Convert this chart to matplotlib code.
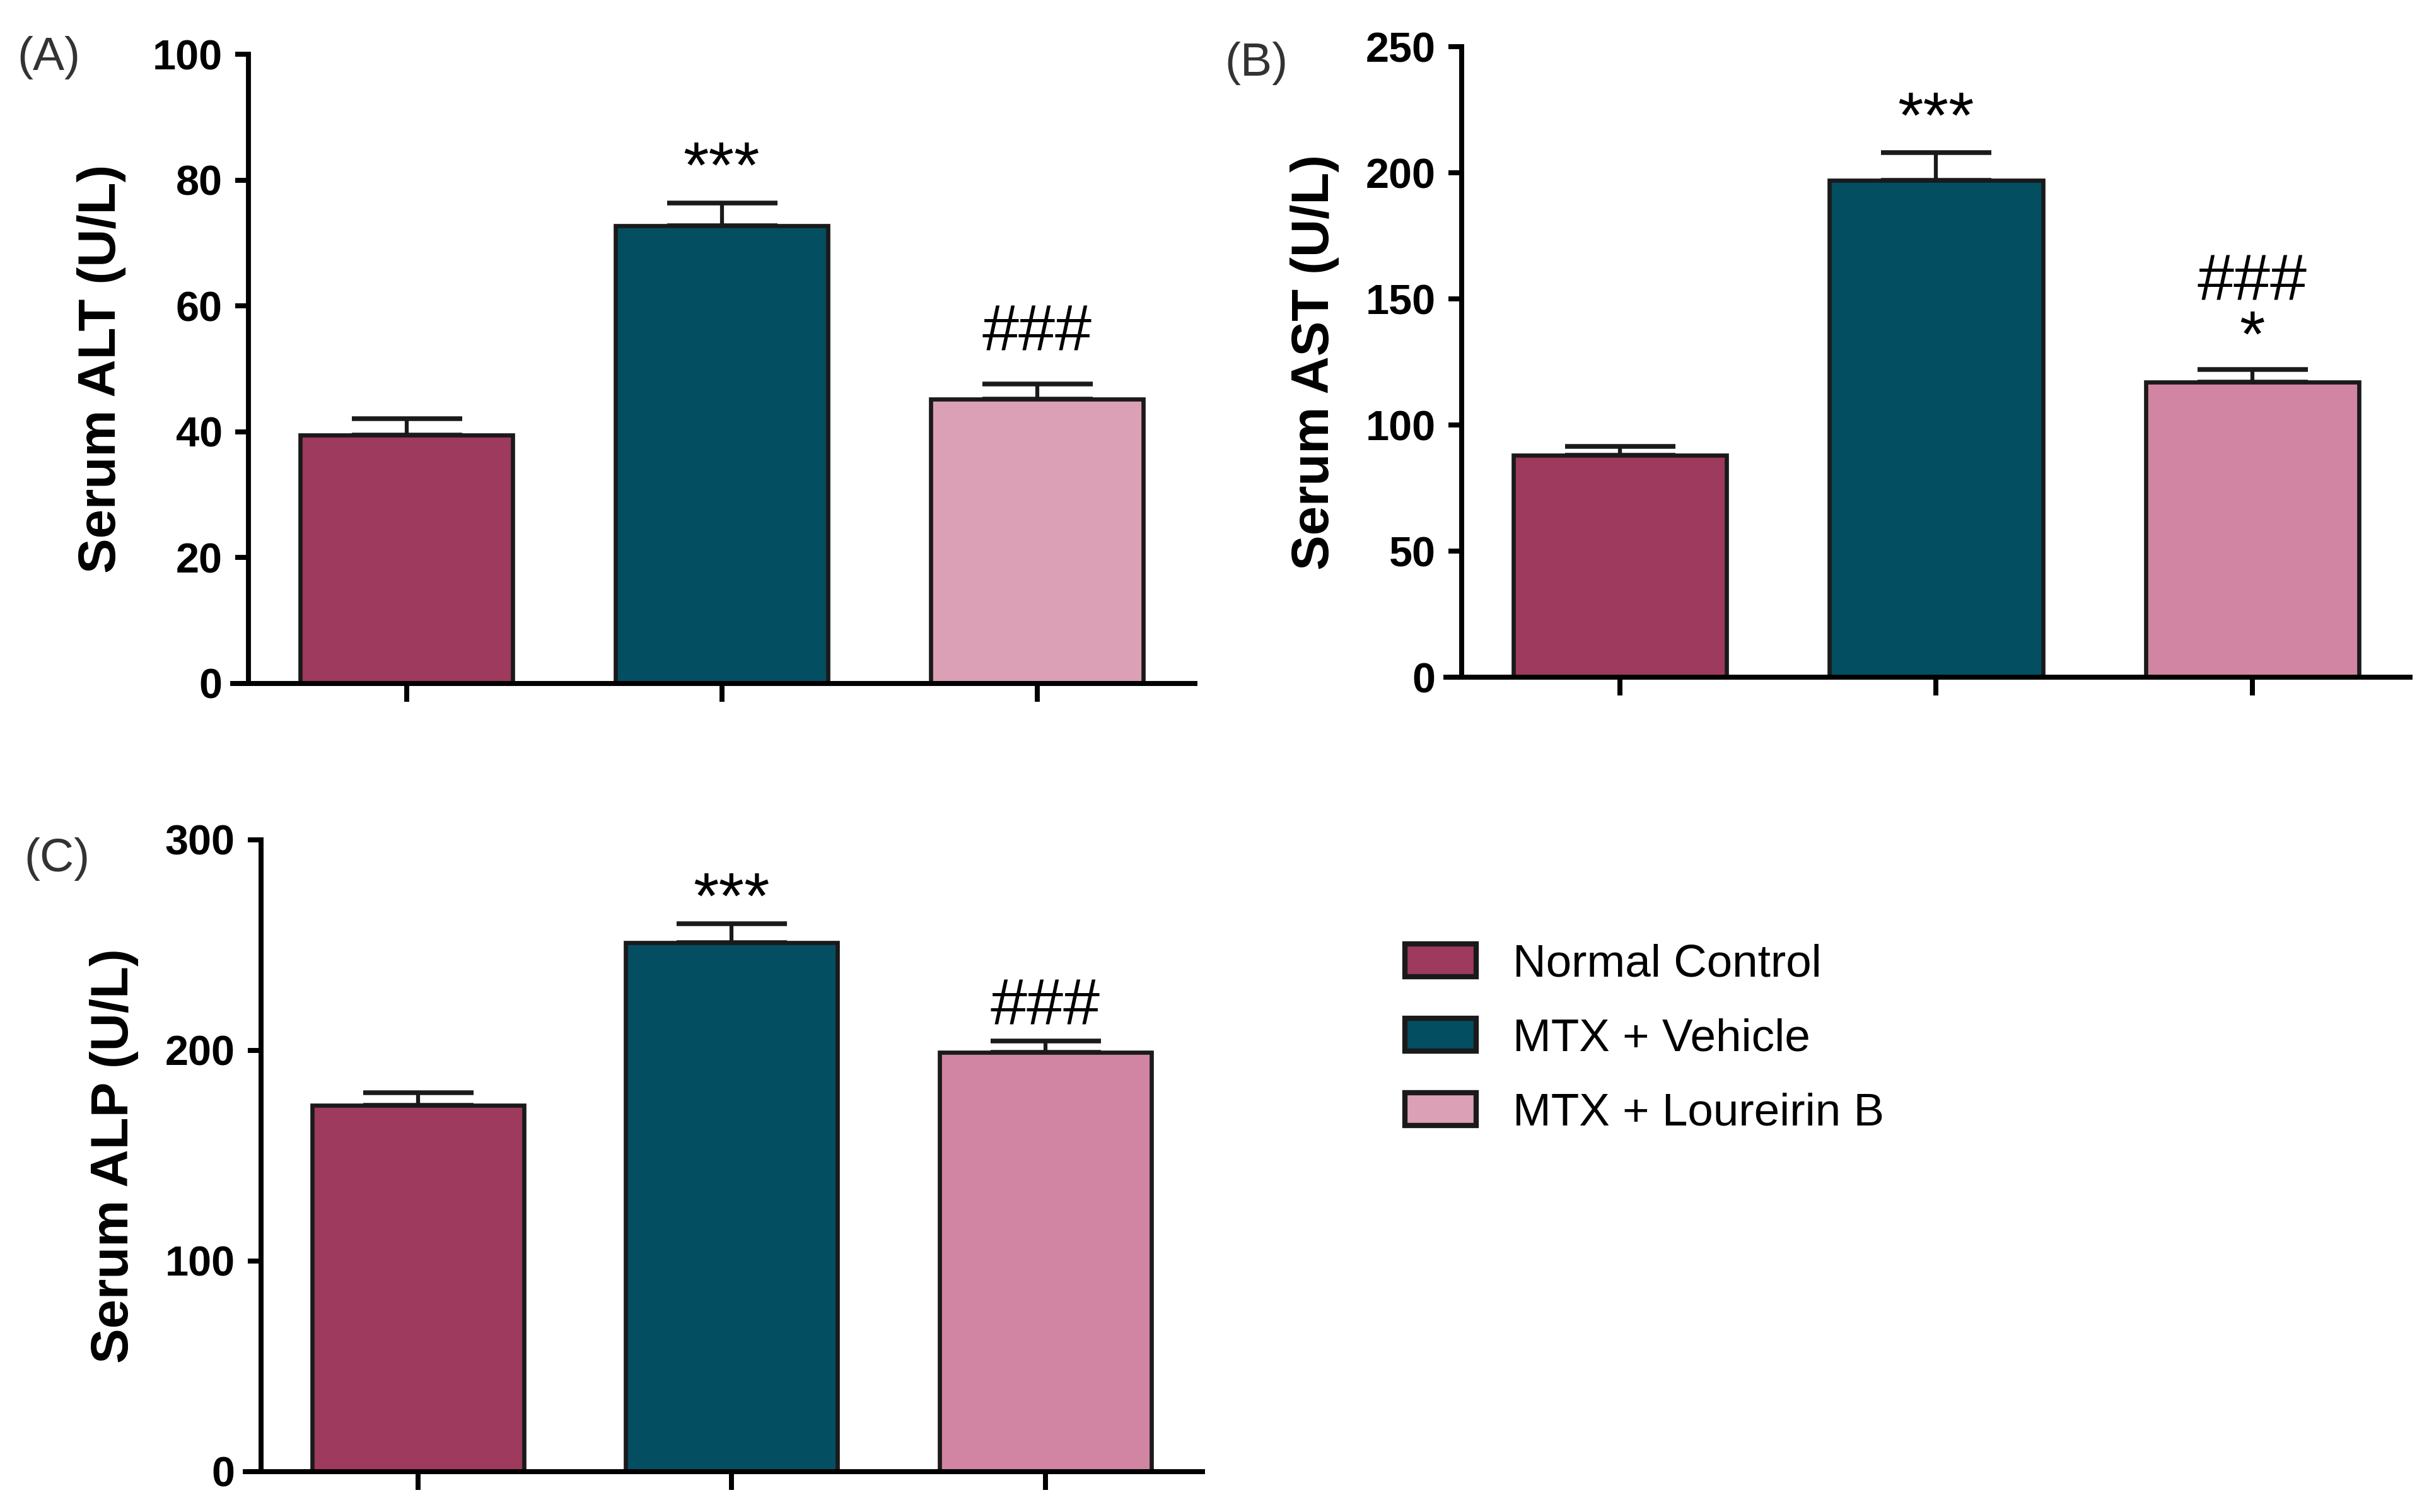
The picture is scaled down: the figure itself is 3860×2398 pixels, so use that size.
import matplotlib
matplotlib.use("Agg")
import matplotlib.pyplot as plt
from matplotlib.patches import Patch

plt.rcParams['font.family'] = ['Liberation Sans', 'DejaVu Sans']

groups = ["Normal Control", "MTX + Vehicle", "MTX + Loureirin B"]

alt_mean = [39.5, 72.8, 45.2]
alt_err = [2.6, 3.6, 2.4]
ast_mean = [88.0, 197.0, 117.0]
ast_err = [3.5, 11.0, 5.0]
alp_mean = [174.0, 251.0, 199.0]
alp_err = [6.0, 9.0, 5.5]

alt_marks = ["", "***", "###"]
ast_marks = ["", "***", "###\n*"]
alp_marks = ["", "***", "###"]

c_nc = "#9E3A5D"
c_veh = "#044E62"
c_lb_light = "#DCA0B6"
c_lb = "#D285A3"

fig = plt.figure(figsize=(3861/300, 2398/300), dpi=300)

def panel(rect, means, errs, ymax, ystep, ylabel, marks, mark_y, colors, tag, tagpos):
    ax = fig.add_axes(rect)
    x = list(range(len(means)))
    ax.bar(x, means, width=0.675, color=colors, edgecolor="#1a1a1a", linewidth=1.6, zorder=2)
    ax.errorbar(x, means, yerr=[[0]*len(errs), errs], fmt="none", ecolor="#1a1a1a",
                elinewidth=1.5, capsize=21, capthick=1.8, zorder=1)
    ax.set_xlim(-0.55, 2.5)
    ax.set_ylim(0, ymax)
    ax.spines['top'].set_visible(False)
    ax.spines['right'].set_visible(False)
    ax.spines['left'].set_position(('data', -0.5))
    for s in ['left', 'bottom']:
        ax.spines[s].set_linewidth(1.9)
    ax.set_xticks(x)
    ax.set_xticklabels([])
    ax.set_yticks(list(range(0, ymax + 1, ystep)))
    ax.tick_params(axis='x', length=7, width=1.9, direction='out')
    ax.tick_params(axis='y', length=5, width=1.9, direction='out', pad=5, labelsize=16)
    for lab in ax.get_yticklabels():
        lab.set_fontweight('bold')
    ax.set_ylabel(ylabel, fontsize=20, fontweight='bold', labelpad=10)
    for xi, m, my in zip(x, marks, mark_y):
        if m:
            ax.text(xi, my, m, ha='center', va='center', fontsize=25, linespacing=0.9)
    fig.text(tagpos[0], tagpos[1], tag, fontsize=18, color="#333333", ha='left', va='center')
    return ax

panel([0.0957, 0.548, 0.395, 0.416], alt_mean, alt_err, 100, 20, "Serum ALT (U/L)",
      alt_marks, [0, 81.5, 55.5], [c_nc, c_veh, c_lb_light], "(A)", (0.007, 0.962))
panel([0.594, 0.552, 0.396, 0.417], ast_mean, ast_err, 250, 50, "Serum AST (U/L)",
      ast_marks, [0, 220.5, 145], [c_nc, c_veh, c_lb], "(B)", (0.503, 0.958))
panel([0.1008, 0.0267, 0.393, 0.418], alp_mean, alp_err, 300, 100, "Serum ALP (U/L)",
      alp_marks, [0, 270.5, 220], [c_nc, c_veh, c_lb], "(C)", (0.010, 0.432))

handles = [Patch(facecolor=c, edgecolor="#1a1a1a", linewidth=2.0) for c in [c_nc, c_veh, c_lb_light]]
fig.legend(handles, groups, loc='upper left', bbox_to_anchor=(0.577, 0.376), frameon=False,
           fontsize=17.5, borderpad=0, borderaxespad=0, handlelength=1.55, handleheight=0.72,
           handletextpad=0.8, labelspacing=0.7)

fig.savefig("out.png", dpi=300)
